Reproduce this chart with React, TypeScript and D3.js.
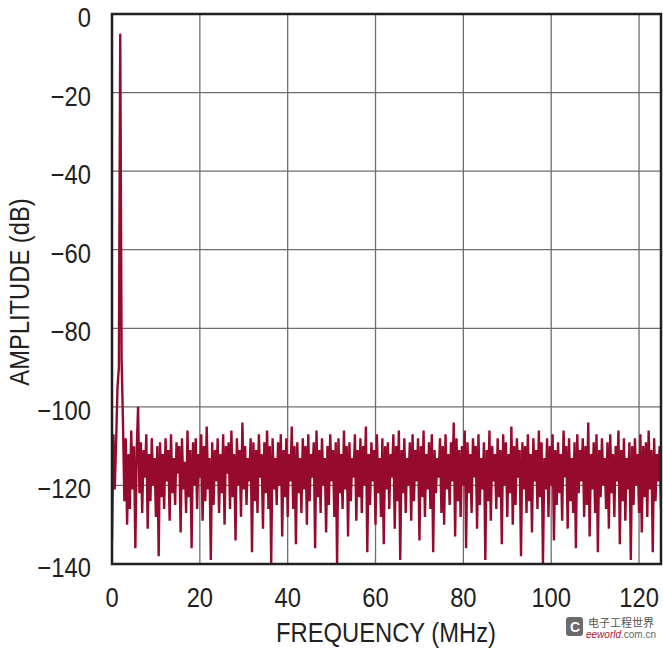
import React from "react";
import * as d3 from "d3";

const FREQ_START = 0;
const FREQ_STEP = 0.3125; // MHz between FFT bins shown
const amplitudes: number[] = [
  -134, -107, -121, -109, -95, -90, -5, -88, -104, -124, -108, -130, -112, -126, -106, -121, -110, -136, -111, -100,
  -122, -109, -127, -111, -118, -107, -131, -112, -124, -108, -120, -113, -128, -110, -138, -109, -123, -112, -126, -108,
  -119, -111, -129, -107, -122, -113, -125, -109, -117, -110, -132, -108, -121, -114, -127, -106, -123, -111, -136, -109,
  -120, -108, -126, -112, -118, -107, -129, -110, -124, -105, -121, -113, -139, -109, -125, -111, -119, -108, -127, -112,
  -122, -107, -130, -110, -117, -109, -126, -106, -123, -112, -134, -108, -120, -111, -128, -104, -121, -110, -125, -113,
  -119, -108, -137, -109, -124, -111, -127, -107, -118, -112, -131, -109, -122, -106, -126, -110, -140, -108, -121, -113,
  -125, -109, -120, -107, -133, -111, -123, -108, -128, -112, -119, -105, -126, -110, -135, -109, -122, -113, -127, -108,
  -121, -110, -130, -107, -124, -112, -118, -109, -136, -106, -123, -111, -127, -108, -120, -113, -132, -110, -125, -107,
  -119, -111, -128, -109, -140, -108, -122, -112, -126, -106, -121, -110, -133, -109, -124, -113, -118, -107, -129, -111,
  -123, -108, -127, -110, -120, -105, -137, -112, -125, -109, -119, -111, -130, -107, -122, -113, -128, -108, -135, -110,
  -121, -109, -126, -112, -118, -107, -131, -110, -124, -106, -139, -111, -122, -108, -127, -113, -120, -109, -129, -107,
  -124, -111, -119, -108, -134, -110, -123, -106, -128, -112, -121, -109, -126, -107, -137, -111, -122, -113, -118, -108,
  -127, -110, -130, -107, -121, -112, -125, -109, -119, -104, -133, -108, -124, -111, -128, -110, -120, -106, -136, -109,
  -122, -112, -127, -108, -118, -110, -131, -107, -125, -113, -121, -109, -139, -111, -124, -106, -129, -110, -119, -112,
  -126, -108, -123, -111, -135, -107, -120, -109, -128, -112, -122, -105, -130, -110, -125, -108, -118, -111, -138, -109,
  -121, -110, -127, -107, -124, -112, -132, -108, -119, -111, -126, -106, -123, -109, -140, -113, -121, -108, -128, -110,
  -120, -107, -134, -111, -125, -109, -122, -112, -129, -106, -118, -110, -131, -108, -124, -113, -127, -109, -136, -107,
  -122, -111, -119, -108, -128, -110, -125, -104, -133, -112, -121, -109, -127, -107, -137, -111, -123, -108, -120, -113,
  -126, -109, -131, -107, -122, -112, -128, -110, -119, -106, -135, -111, -124, -108, -129, -113, -121, -109, -139, -110,
  -125, -108, -120, -112, -127, -107, -132, -110, -123, -109, -128, -106, -121, -111, -137, -108, -124, -112, -119, -110,
  -126,
];
const xTicks = [0, 20, 40, 60, 80, 100, 120];
const yTicks = [0, -20, -40, -60, -80, -100, -120, -140];
const xTitle = "FREQUENCY (MHz)";
const yTitle = "AMPLITUDE (dB)";

const W = 663;
const H = 652;
const L = 112;
const R = 661;
const T = 14;
const B = 564;
const FONT = "'Liberation Sans', Arial, sans-serif";
const TEXT = "#231f20";
const TRACE = "#960a2d";
const SX = 0.88;

export default function App() {
  const x = d3.scaleLinear().domain([0, 125]).range([L, R]);
  const y = d3.scaleLinear().domain([-140, 0]).range([B, T]);
  const pts: [number, number][] = amplitudes.map((a, i) => [FREQ_START + i * FREQ_STEP, a]);
  const line = d3
    .line<[number, number]>()
    .x((d) => x(d[0]))
    .y((d) => y(d[1]));

  return (
    <svg
      width={W}
      height={H}
      style={{ position: "absolute", left: 0, top: 0, background: "#fff" }}
    >
      <rect x={0} y={0} width={W} height={H} fill="#fff" />
      <defs>
        <clipPath id="plot">
          <rect x={L} y={T} width={R - L} height={B - T} />
        </clipPath>
      </defs>
      {xTicks.slice(1).map((t) => (
        <line key={"gx" + t} x1={x(t)} x2={x(t)} y1={T} y2={B} stroke="#6e6e6e" strokeWidth={1.3} />
      ))}
      {yTicks.slice(1, -1).map((t) => (
        <line key={"gy" + t} x1={L} x2={R} y1={y(t)} y2={y(t)} stroke="#6e6e6e" strokeWidth={1.3} />
      ))}
      <g clipPath="url(#plot)">
        <path d={line(pts) || ""} fill="none" stroke={TRACE} strokeWidth={2.4} strokeLinejoin="bevel" />
      </g>
      <rect x={L} y={T} width={R - L} height={B - T} fill="none" stroke={TEXT} strokeWidth={2.5} />
      {yTicks.map((t) => (
        <g key={"yl" + t} transform={`translate(91,${y(t) + 13}) scale(${SX},1)`}>
          <text textAnchor="end" fontFamily={FONT} fontSize={27} fill={TEXT}>
            {t === 0 ? "0" : "\u2212" + Math.abs(t)}
          </text>
        </g>
      ))}
      {xTicks.map((t) => (
        <g key={"xl" + t} transform={`translate(${x(t)},607) scale(${SX},1)`}>
          <text textAnchor="middle" fontFamily={FONT} fontSize={27} fill={TEXT}>
            {t}
          </text>
        </g>
      ))}
      <g transform={`translate(386,642) scale(${SX},1)`}>
        <text textAnchor="middle" fontFamily={FONT} fontSize={27} fill={TEXT}>
          {xTitle}
        </text>
      </g>
      <g transform={`translate(29,292) rotate(-90) scale(${SX},1)`}>
        <text textAnchor="middle" fontFamily={FONT} fontSize={27} fill={TEXT}>
          {yTitle}
        </text>
      </g>
      <g>
        <rect x={566} y={617} width={17} height={19} rx={3} fill="#6b6b6b" />
        <text x={575} y={632} textAnchor="middle" fontFamily={FONT} fontSize={14} fontWeight="bold" fill="#fff">C</text>
        <text x={588} y={627} fontFamily="'Noto Sans CJK SC', sans-serif" fontSize={11} fill="#555">电子工程世界</text>
        <text x={586} y={638} fontFamily={FONT} fontSize={10} fontStyle="italic" fill="#b01030">
          eeworld<tspan fill="#666" fontStyle="normal">.com.cn</tspan>
        </text>
      </g>
    </svg>
  );
}
